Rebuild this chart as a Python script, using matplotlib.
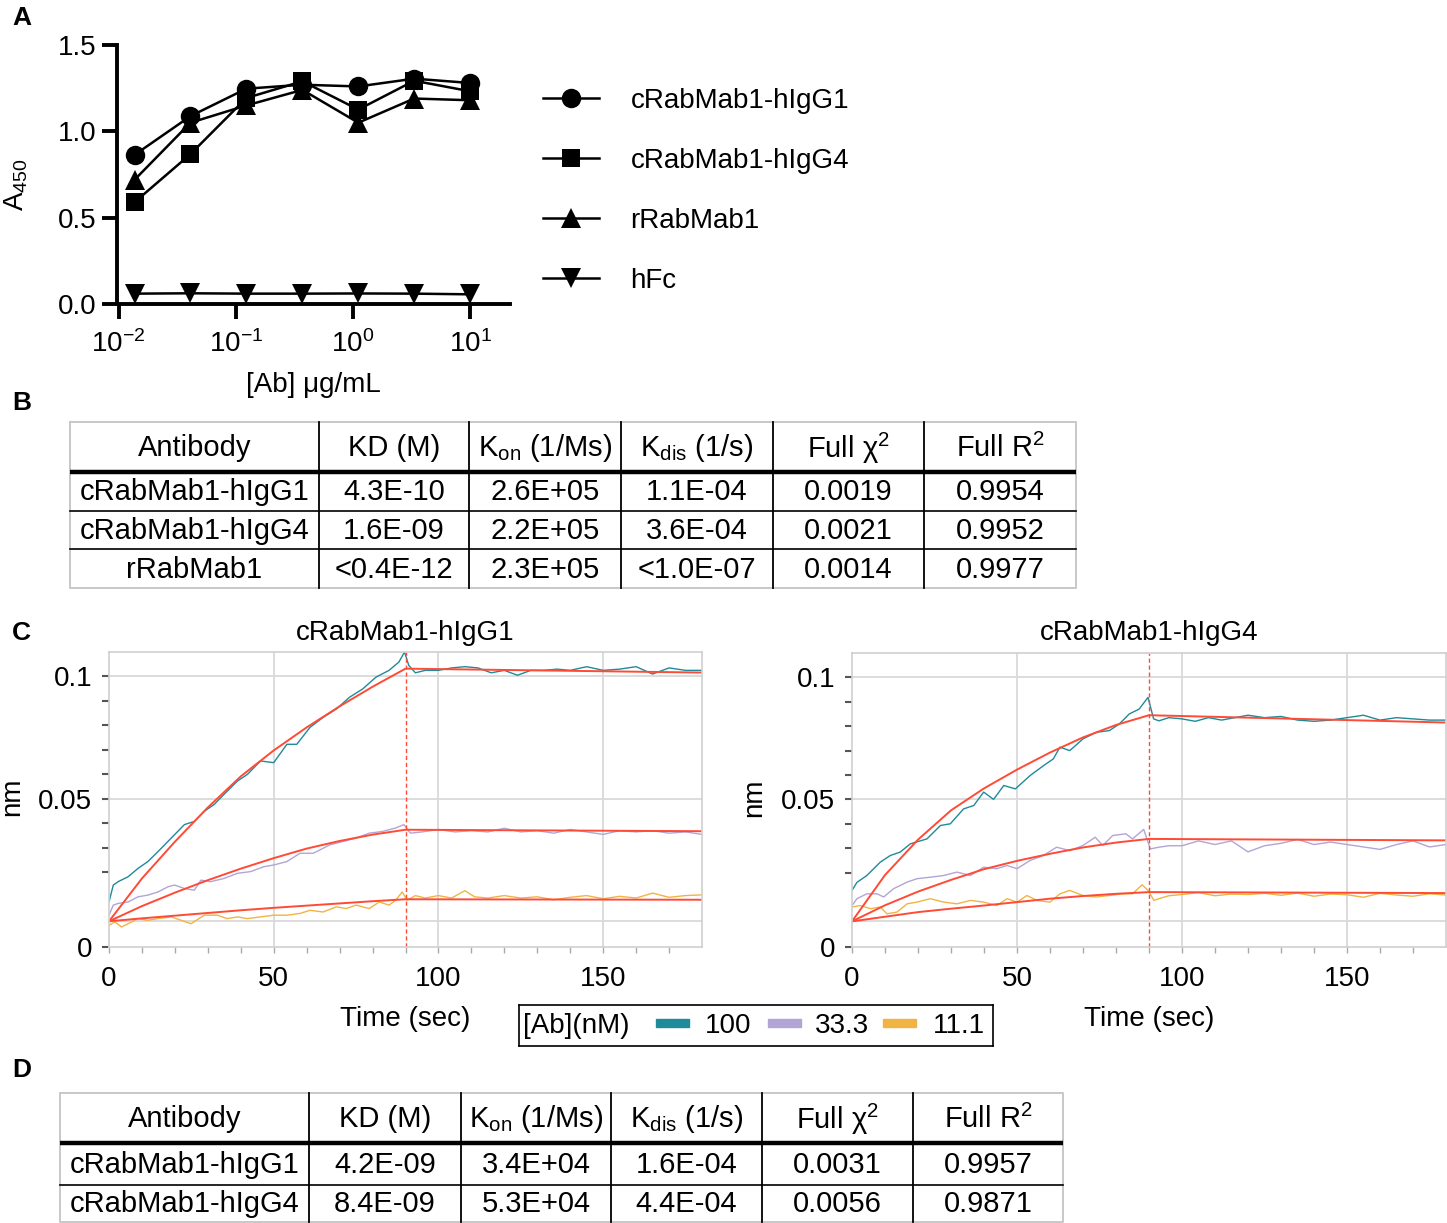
import matplotlib
matplotlib.use('Agg')
import matplotlib.pyplot as plt
from matplotlib.patches import Rectangle

plt.rcParams['font.family'] = ['Liberation Sans', 'DejaVu Sans']
plt.rcParams['mathtext.fontset'] = 'custom'
plt.rcParams['mathtext.rm'] = 'Liberation Sans'
plt.rcParams['mathtext.it'] = 'Liberation Sans:italic'
plt.rcParams['mathtext.bf'] = 'Liberation Sans:bold'

# ---------------- data: panel A (ELISA) ----------------
conc = [0.0137, 0.041, 0.123, 0.37, 1.11, 3.33, 10.0]
a450_hIgG1 = [0.864, 1.088, 1.247, 1.27, 1.26, 1.305, 1.28]
a450_hIgG4 = [0.59, 0.868, 1.193, 1.29, 1.126, 1.293, 1.232]
a450_rRab = [0.72, 1.05, 1.15, 1.24, 1.05, 1.19, 1.18]
a450_hFc = [0.06, 0.062, 0.06, 0.06, 0.061, 0.06, 0.056]
seriesA_labels = ['cRabMab1-hIgG1', 'cRabMab1-hIgG4', 'rRabMab1', 'hFc']
xticksA = [0.01, 0.1, 1, 10]
xticklabelsA = [r'$10^{-2}$', r'$10^{-1}$', r'$10^{0}$', r'$10^{1}$']
yticksA = [0.0, 0.5, 1.0, 1.5]
yticklabelsA = ['0.0', '0.5', '1.0', '1.5']

# ---------------- data: tables B and D ----------------
table_header = ['Antibody', 'KD (M)', r'K$_{\rm on}$ (1/Ms)', r'K$_{\rm dis}$ (1/s)',
                r'Full χ$^{2}$', r'Full R$^{2}$']
tableB_rows = [
    ['cRabMab1-hIgG1', '4.3E-10', '2.6E+05', '1.1E-04', '0.0019', '0.9954'],
    ['cRabMab1-hIgG4', '1.6E-09', '2.2E+05', '3.6E-04', '0.0021', '0.9952'],
    ['rRabMab1', '<0.4E-12', '2.3E+05', '<1.0E-07', '0.0014', '0.9977'],
]
tableD_rows = [
    ['cRabMab1-hIgG1', '4.2E-09', '3.4E+04', '1.6E-04', '0.0031', '0.9957'],
    ['cRabMab1-hIgG4', '8.4E-09', '5.3E+04', '4.4E-04', '0.0056', '0.9871'],
]

# ---------------- data: panel C (sensorgrams) ----------------
conc_labels = ['100', '33.3', '11.1']

# cRabMab1-hIgG1
g1_100_t = [0, 1.3, 2.8, 5.8, 8.8, 11.8, 14.9, 18.9, 22.9, 25.9, 28.9, 31.9, 34.9, 39, 42, 46, 50,
            54, 57, 61, 65, 69, 73, 77, 81, 85, 88, 89.7, 91, 93, 96, 100, 104, 108, 112, 116,
            120, 124, 128, 132, 136, 140, 145, 150, 155, 160, 165, 170, 175, 180]
g1_100_y = [0.0079, 0.0148, 0.0162, 0.0182, 0.0216, 0.0244, 0.0285, 0.034, 0.0395, 0.0408, 0.0449,
            0.0477, 0.0518, 0.0573, 0.060, 0.0655, 0.0648, 0.0723, 0.0723, 0.0792, 0.0833, 0.0867,
            0.0915, 0.0949, 0.0997, 0.1025, 0.1059, 0.110, 0.1045, 0.1015, 0.1025, 0.1025, 0.1035,
            0.104, 0.1035, 0.1015, 0.1025, 0.1005, 0.1025, 0.1025, 0.103, 0.1025, 0.104, 0.1025,
            0.103, 0.104, 0.101, 0.1035, 0.1025, 0.1025]
g1_33_t = [0, 1.3, 2.8, 5.8, 8.8, 11.8, 14.9, 17.9, 19.9, 22.9, 25.9, 27.9, 30.9, 34.9, 39, 43, 47,
           50, 54, 58, 62, 67, 71, 75, 79, 83, 87, 89.5, 91.5, 95, 100, 105, 110, 115, 120, 125,
           130, 135, 140, 145, 150, 155, 160, 165, 170, 175, 180]
g1_33_y = [0.0025, 0.0066, 0.0073, 0.0079, 0.010, 0.0107, 0.012, 0.0141, 0.0148, 0.0134, 0.0127,
           0.0168, 0.0162, 0.0175, 0.0196, 0.0203, 0.0223, 0.023, 0.0244, 0.0278, 0.0278, 0.0312,
           0.0326, 0.034, 0.036, 0.0367, 0.0381, 0.0395, 0.036, 0.0365, 0.0375, 0.0365, 0.037,
           0.0365, 0.038, 0.0365, 0.037, 0.036, 0.0375, 0.0365, 0.0355, 0.037, 0.0365, 0.037,
           0.036, 0.0365, 0.0355]
g1_11_t = [0, 1.8, 3.8, 5.8, 8.8, 11.8, 14.9, 18.9, 21.9, 24.9, 28.9, 32.9, 35.9, 39, 42, 46, 50,
           54, 58, 61, 65, 69, 72, 75, 79, 82, 85, 87, 89, 90.5, 93, 96, 100, 104, 108, 111, 115,
           120, 125, 130, 135, 140, 145, 150, 155, 160, 165, 170, 175, 180]
g1_11_y = [-0.0016, -0.0003, -0.0023, -0.001, 0.0011, 0.0004, 0.0011, 0.0018, 0.0004, -0.001,
           0.0025, 0.0025, 0.0011, 0.0018, 0.0011, 0.0018, 0.0025, 0.0025, 0.0032, 0.0045, 0.0038,
           0.0059, 0.0052, 0.0066, 0.0052, 0.0079, 0.0066, 0.0086, 0.012, 0.0086, 0.0105, 0.0095,
           0.0105, 0.0095, 0.0125, 0.010, 0.0095, 0.0105, 0.0095, 0.010, 0.0088, 0.0098, 0.0105,
           0.0092, 0.0102, 0.0095, 0.0115, 0.0098, 0.0105, 0.0108]
g1_fit_t = [0, 10, 20, 30, 40, 50, 60, 70, 80, 90, 135, 180]
g1_fit_100 = [0, 0.0175, 0.0325, 0.0465, 0.0592, 0.0698, 0.0792, 0.0878, 0.0958, 0.1032, 0.1024, 0.1016]
g1_fit_33 = [0, 0.0062, 0.0117, 0.0168, 0.0215, 0.0258, 0.0297, 0.0328, 0.0354, 0.0374, 0.0371, 0.0368]
g1_fit_11 = [0, 0.0012, 0.0023, 0.0034, 0.0045, 0.0055, 0.0064, 0.0073, 0.0082, 0.009, 0.0089, 0.0088]

# cRabMab1-hIgG4
g4_100_t = [0, 1.5, 4.5, 8.6, 11.6, 14.6, 17.7, 22.7, 26.8, 29.8, 33.8, 36.9, 39.9, 42.9, 46, 49.5,
            54, 58, 61, 63, 66, 70, 74, 78, 81, 84, 87, 89.7, 91.4, 93, 96, 100, 104, 108, 112,
            116, 120, 125, 130, 135, 140, 145, 150, 155, 160, 165, 170, 175, 180]
g4_100_y = [0.0127, 0.016, 0.0188, 0.0243, 0.027, 0.0284, 0.0318, 0.0338, 0.0393, 0.040, 0.0461,
            0.0475, 0.053, 0.050, 0.0557, 0.0543, 0.0598, 0.0638, 0.0666, 0.0714, 0.070, 0.0748,
            0.0775, 0.0782, 0.0809, 0.085, 0.087, 0.0918, 0.083, 0.0822, 0.0835, 0.083, 0.082,
            0.0835, 0.0825, 0.0835, 0.0845, 0.0835, 0.084, 0.0825, 0.082, 0.0825, 0.0835, 0.0845,
            0.0825, 0.0835, 0.083, 0.0825, 0.0825]
g4_33_t = [0, 1.5, 4.5, 7.6, 9.6, 12.6, 16.7, 19.7, 23.7, 27.8, 31.8, 35.9, 39.9, 43.9, 47, 50, 54,
           58, 62, 66, 70, 73.7, 76, 79, 83, 85, 88.4, 90.4, 93, 96, 100, 105, 110, 115, 120, 125,
           130, 135, 140, 145, 150, 155, 160, 165, 170, 175, 180]
g4_33_y = [0.0065, 0.0093, 0.0113, 0.0113, 0.010, 0.0134, 0.0161, 0.0175, 0.0181, 0.0188, 0.0202,
           0.0188, 0.0222, 0.0216, 0.0229, 0.0216, 0.025, 0.027, 0.0304, 0.029, 0.0311, 0.0345,
           0.0311, 0.0352, 0.0359, 0.0338, 0.0377, 0.0297, 0.0304, 0.031, 0.031, 0.033, 0.0315,
           0.033, 0.0285, 0.031, 0.032, 0.0336, 0.0315, 0.0325, 0.0315, 0.0305, 0.0295, 0.0315,
           0.033, 0.0305, 0.0315]
g4_11_t = [0, 2.5, 5.6, 8.6, 10.6, 13.6, 16.7, 19.7, 23.7, 27.8, 31.8, 35.9, 39.9, 43.9, 47, 50,
           53, 56, 60, 63, 66, 70, 74, 78, 82, 85, 87.9, 89.7, 91.5, 93, 96, 100, 105, 110, 115,
           120, 125, 130, 135, 140, 145, 150, 155, 160, 165, 170, 175, 180]
g4_11_y = [0.0059, 0.0065, 0.0052, 0.0059, 0.0031, 0.0038, 0.0072, 0.0079, 0.0093, 0.0079, 0.0072,
           0.0086, 0.0079, 0.0065, 0.0093, 0.0079, 0.0106, 0.0086, 0.0079, 0.0113, 0.0127, 0.0106,
           0.010, 0.0106, 0.0113, 0.0113, 0.015, 0.0127, 0.0086, 0.0093, 0.0105, 0.011, 0.0118,
           0.0105, 0.0112, 0.011, 0.0115, 0.0107, 0.0116, 0.0103, 0.0112, 0.0109, 0.0099, 0.0115,
           0.0108, 0.0103, 0.0113, 0.0108]
g4_fit_t = [0, 10, 20, 30, 40, 50, 60, 70, 80, 90, 135, 180]
g4_fit_100 = [0, 0.019, 0.0335, 0.0455, 0.0545, 0.0622, 0.0692, 0.0754, 0.0805, 0.0845, 0.083, 0.0815]
g4_fit_33 = [0, 0.0066, 0.0122, 0.017, 0.0214, 0.0248, 0.0277, 0.0303, 0.0323, 0.0338, 0.0335, 0.0332]
g4_fit_11 = [0, 0.0019, 0.0038, 0.0052, 0.0065, 0.0079, 0.0093, 0.0104, 0.0113, 0.012, 0.0118, 0.0116]

assoc_end = 90

# ---------------- styles ----------------
W, H = 1447, 1223
FS = 20
C_TEAL, C_PURP, C_ORNG = '#1f8a99', '#b3a4d6', '#f0b444'
C_FIT = '#ff4a36'


def rect(x0, y0, x1, y1):
    return [x0 / W, 1 - y1 / H, (x1 - x0) / W, (y1 - y0) / H]


fig = plt.figure(figsize=(W / 100, H / 100), dpi=100)

# ---------------- panel A ----------------
axA = fig.add_axes(rect(117, 45, 510, 304))
axA.set_xscale('log')
mk = dict(color='black', lw=1.8, ms=14, mew=0, clip_on=False)
axA.plot(conc, a450_hIgG1, marker='o', label=seriesA_labels[0], **mk)
axA.plot(conc, a450_hIgG4, marker='s', label=seriesA_labels[1], **dict(mk, ms=13))
axA.plot(conc, a450_rRab, marker='^', label=seriesA_labels[2], **mk)
axA.plot(conc, a450_hFc, marker='v', label=seriesA_labels[3], **mk)
axA.set_xlim(10 ** -2.014, 10 ** 1.34)
axA.set_ylim(0, 1.5)
for s in ['top', 'right']:
    axA.spines[s].set_visible(False)
for s in ['left', 'bottom']:
    axA.spines[s].set_linewidth(2.8)
axA.set_xticks(xticksA)
axA.set_xticklabels(xticklabelsA)
axA.xaxis.set_minor_locator(matplotlib.ticker.NullLocator())
axA.set_yticks(yticksA)
axA.set_yticklabels(yticklabelsA)
axA.tick_params(width=2.8, length=11, labelsize=FS, pad=4)
axA.tick_params(axis='x', pad=8)
axA.set_xlabel('[Ab] μg/mL', fontsize=FS, labelpad=10)
axA.set_ylabel(r'A$_{450}$', fontsize=FS)
axA.yaxis.set_label_coords(-0.222, 0.46)
fig.legend(loc='center left', bbox_to_anchor=(543 / W, 1 - 191 / H), frameon=False,
           fontsize=FS, handlelength=2.0, handletextpad=1.15, labelspacing=1.22,
           numpoints=1, borderpad=0, borderaxespad=0,
           handles=axA.get_lines())

# ---------------- tables ----------------
TFS = 21


def draw_table(x_edges, y_edges, header, rows):
    ax = fig.add_axes(rect(x_edges[0] - 5, y_edges[0] - 5, x_edges[-1] + 5, y_edges[-1] + 5))
    ax.set_xlim(x_edges[0] - 5, x_edges[-1] + 5)
    ax.set_ylim(y_edges[-1] + 5, y_edges[0] - 5)
    ax.axis('off')
    x0, x1 = x_edges[0], x_edges[-1]
    y0, y1 = y_edges[0], y_edges[-1]
    ax.plot([x0, x1, x1, x0, x0], [y0, y0, y1, y1, y0], color='#c8c8c8', lw=1.4)
    for xe in x_edges[1:-1]:
        ax.plot([xe, xe], [y0, y1], color='black', lw=1.3)
    ax.plot([x0, x1], [y_edges[1], y_edges[1]], color='black', lw=3.2, solid_capstyle='butt')
    for ye in y_edges[2:-1]:
        ax.plot([x0, x1], [ye, ye], color='black', lw=1.2)
    all_rows = [header] + rows
    for r, row in enumerate(all_rows):
        yc = (y_edges[r] + y_edges[r + 1]) / 2
        for c, txt in enumerate(row):
            xc = (x_edges[c] + x_edges[c + 1]) / 2
            ax.text(xc, yc + 1, txt, ha='center', va='center', fontsize=TFS)


draw_table([70, 319, 469, 621, 773, 924, 1076], [422, 472, 511, 549, 588], table_header, tableB_rows)
draw_table([60, 309, 461, 611, 762, 913, 1063], [1093, 1143, 1185, 1222], table_header, tableD_rows)


# ---------------- panel C ----------------
def sensor(ax, title, traces, fit_t, fits):
    for (tt, yy), col in zip(traces, [C_TEAL, C_PURP, C_ORNG]):
        ax.plot(tt, yy, color=col, lw=1.0)
    for ff in fits:
        ax.plot(fit_t, ff, color=C_FIT, lw=1.4)
    ax.axvline(assoc_end, color=C_FIT, lw=1.0, ls=(0, (3, 2)))
    ax.set_xlim(0, 180)
    ybot, ytop = -0.0105, 0.11
    ax.set_ylim(ybot, ytop)
    for s in ax.spines.values():
        s.set_color('#cfcfcf')
        s.set_linewidth(1.2)
    for gy in [0, 0.05, 0.1]:
        ax.axhline(gy, color='#d9d9d9', lw=1.3, zorder=0)
    for gx in [50, 100, 150]:
        ax.axvline(gx, color='#d9d9d9', lw=1.3, zorder=0)
    ax.set_yticks([ybot, 0.05, 0.1])
    ax.set_yticklabels(['0', '0.05', '0.1'])
    ax.set_yticks([0.02, 0.03, 0.04, 0.06, 0.07, 0.08, 0.09], minor=True)
    ax.set_xticks([0, 50, 100, 150])
    ax.set_xticks(range(10, 180, 10), minor=True)
    ax.tick_params(axis='y', which='both', length=5, width=1.5, color='#555555', labelsize=FS, pad=7)
    ax.tick_params(axis='x', which='both', length=4, width=1.0, color='#aaaaaa', labelsize=FS, pad=10)
    ax.set_title(title, fontsize=FS, pad=9)
    ax.set_xlabel('Time (sec)', fontsize=FS, labelpad=10)
    ax.set_ylabel('nm', fontsize=FS)
    ax.yaxis.set_label_coords(-0.142, 0.508)


axL = fig.add_axes(rect(109, 652, 702, 947))
sensor(axL, 'cRabMab1-hIgG1', [(g1_100_t, g1_100_y), (g1_33_t, g1_33_y), (g1_11_t, g1_11_y)],
       g1_fit_t, [g1_fit_100, g1_fit_33, g1_fit_11])
axR = fig.add_axes(rect(852, 653, 1446, 947))
sensor(axR, 'cRabMab1-hIgG4', [(g4_100_t, g4_100_y), (g4_33_t, g4_33_y), (g4_11_t, g4_11_y)],
       g4_fit_t, [g4_fit_100, g4_fit_33, g4_fit_11])

# legend for panel C
axLeg = fig.add_axes(rect(519, 1005, 993, 1046))
axLeg.set_xlim(519, 993)
axLeg.set_ylim(1046, 1005)
axLeg.set_xticks([])
axLeg.set_yticks([])
for s in axLeg.spines.values():
    s.set_color('black')
    s.set_linewidth(1.2)
axLeg.text(523, 1026, '[Ab](nM)', fontsize=FS, ha='left', va='center')
for x_patch, x_txt, col, lab in zip([656, 768, 883], [705, 815, 933],
                                     [C_TEAL, C_PURP, C_ORNG], conc_labels):
    axLeg.add_patch(Rectangle((x_patch, 1019), 33, 8, color=col))
    axLeg.text(x_txt, 1026, lab, fontsize=FS, ha='left', va='center')

# ---------------- panel letters ----------------
for letter, yy in zip(['A', 'B', 'C', 'D'], [18, 403, 633, 1070]):
    fig.text(12 / W, 1 - yy / H, letter, fontsize=19, fontweight='bold', ha='left', va='center')

fig.savefig('out.png', dpi=100)
